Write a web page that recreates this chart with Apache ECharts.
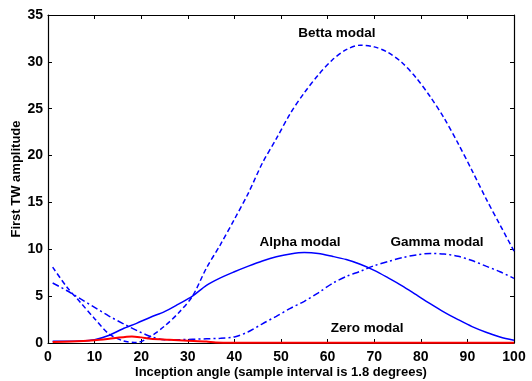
<!DOCTYPE html>
<html>
<head>
<meta charset="utf-8">
<script src="https://cdn.jsdelivr.net/npm/echarts@6/dist/echarts.min.js"></script>
<style>
  html, body { margin: 0; padding: 0; background: #fff; }
  #chart { width: 532px; height: 381px; }
</style>
</head>
<body>
<div id="chart"></div>
<script>
// values (x = inception angle sample, y = first TW amplitude)
const angle = [1, 4, 7, 10, 13, 16, 19, 22, 25, 28, 31, 34, 37, 40, 43, 46, 49, 52, 55, 58, 61, 64, 67, 70, 73, 76, 79, 82, 85, 88, 91, 94, 97, 100];

const betta = [8.1, 6.0, 4.3, 2.6, 1.0, 0.25, 0.05, 0.7, 1.8, 3.2, 5.0, 8.0, 10.5, 13.2, 16.0, 19.2, 21.8, 24.5, 26.7, 28.6, 30.2, 31.3, 31.78, 31.6, 31.0, 29.9, 28.3, 26.3, 24.0, 21.3, 18.4, 15.4, 12.6, 9.8];
const alpha = [0.2, 0.2, 0.22, 0.35, 0.8, 1.5, 2.1, 2.75, 3.35, 4.15, 5.0, 6.15, 6.95, 7.6, 8.2, 8.75, 9.2, 9.5, 9.65, 9.55, 9.25, 8.9, 8.4, 7.75, 6.95, 6.1, 5.15, 4.2, 3.3, 2.5, 1.75, 1.15, 0.65, 0.3];
const gamma = [6.4, 5.6, 4.7, 3.8, 2.9, 2.1, 1.35, 0.7, 0.35, 0.35, 0.4, 0.45, 0.5, 0.65, 1.2, 2.05, 2.85, 3.7, 4.45, 5.35, 6.35, 7.1, 7.65, 8.25, 8.7, 9.1, 9.4, 9.55, 9.5, 9.25, 8.8, 8.2, 7.6, 6.9];

const zeroX = [1, 5, 10, 14, 18, 20, 22, 26, 30, 34, 36, 40, 100];
const zeroY = [0.1, 0.15, 0.3, 0.5, 0.7, 0.6, 0.45, 0.35, 0.25, 0.15, 0.05, 0.03, 0.03];

const xTicks = [0, 10, 20, 30, 40, 50, 60, 70, 80, 90, 100];
const yTicks = [0, 5, 10, 15, 20, 25, 30, 35];

// annotation texts and where they sit, in data units
const noteText = ['Betta modal', 'Alpha modal', 'Gamma modal', 'Zero modal'];
const noteX = [62, 54.1, 83.5, 68.5];
const noteY = [33.0, 10.8, 10.7, 1.6];

const pairs = (xs, ys) => xs.map((x, i) => [x, ys[i]]);

const font = 'Liberation Sans, Arial, sans-serif';
const axisBase = {
  type: 'value',
  axisLine: {show: true, onZero: false, lineStyle: {color: '#000', width: 1.2}},
  axisTick: {show: true, inside: true, length: 4, lineStyle: {color: '#000'}},
  splitLine: {show: false}
};

const chart = echarts.init(document.getElementById('chart'), null, {renderer: 'canvas'});

chart.setOption({
  animation: false,
  backgroundColor: '#fff',
  grid: {left: 48, right: 18, top: 15, bottom: 38, containLabel: false, outerBoundsMode: 'none'},
  xAxis: [
    Object.assign({}, axisBase, {
      min: xTicks[0], max: xTicks[xTicks.length - 1], interval: xTicks[1] - xTicks[0],
      position: 'bottom',
      name: 'Inception angle (sample interval is 1.8 degrees)',
      nameLocation: 'middle', nameGap: 23, nameMoveOverlap: false,
      nameTextStyle: {fontFamily: font, fontWeight: 'bold', fontSize: 13, color: '#000'},
      axisLabel: {fontFamily: font, fontWeight: 'bold', fontSize: 14, color: '#000', margin: 7}
    }),
    Object.assign({}, axisBase, {
      min: xTicks[0], max: xTicks[xTicks.length - 1], interval: xTicks[1] - xTicks[0],
      position: 'top', axisLabel: {show: false}
    })
  ],
  yAxis: [
    Object.assign({}, axisBase, {
      min: yTicks[0], max: yTicks[yTicks.length - 1], interval: yTicks[1] - yTicks[0],
      position: 'left',
      name: 'First TW amplitude',
      nameLocation: 'middle', nameGap: 25, nameRotate: 90, nameMoveOverlap: false,
      nameTextStyle: {fontFamily: font, fontWeight: 'bold', fontSize: 13, color: '#000'},
      axisLabel: {fontFamily: font, fontWeight: 'bold', fontSize: 14, color: '#000', margin: 5}
    }),
    Object.assign({}, axisBase, {
      min: yTicks[0], max: yTicks[yTicks.length - 1], interval: yTicks[1] - yTicks[0],
      position: 'right', axisLabel: {show: false}
    })
  ],
  series: [
    {
      name: 'Betta modal', type: 'line', data: pairs(angle, betta),
      smooth: 0.3, showSymbol: false,
      lineStyle: {color: '#0000ff', width: 1.5, type: [5, 3]},
      markPoint: {
        symbol: 'circle', symbolSize: 0, silent: true,
        label: {
          show: true, position: 'inside', formatter: p => p.name,
          fontFamily: font, fontWeight: 'bold', fontSize: 13.5, color: '#000'
        },
        data: noteText.map((t, i) => ({name: t, coord: [noteX[i], noteY[i]]}))
      }
    },
    {
      name: 'Alpha modal', type: 'line', data: pairs(angle, alpha),
      smooth: 0.3, showSymbol: false,
      lineStyle: {color: '#0000ff', width: 1.5, type: 'solid'}
    },
    {
      name: 'Gamma modal', type: 'line', data: pairs(angle, gamma),
      smooth: 0.3, showSymbol: false,
      lineStyle: {color: '#0000ff', width: 1.5, type: [7, 3, 2, 3]}
    },
    {
      name: 'Zero modal', type: 'line', data: pairs(zeroX, zeroY),
      smooth: 0.3, showSymbol: false,
      lineStyle: {color: '#ff0000', width: 2, type: 'solid'}
    }
  ]
});
</script>
</body>
</html>
